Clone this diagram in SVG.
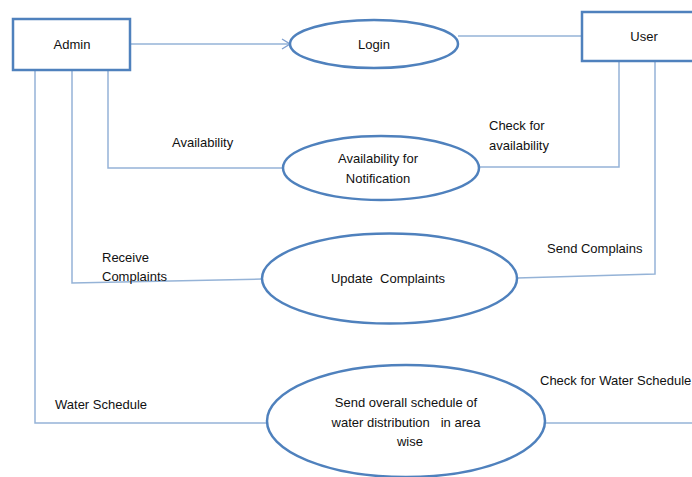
<svg xmlns="http://www.w3.org/2000/svg" width="692" height="477" viewBox="0 0 692 477">
<defs>
<style>
.box{fill:#fff;stroke:#4f81bd;stroke-width:2.5}
.proc{fill:#fff;stroke:#4f81bd;stroke-width:2.5}
.ln{fill:none;stroke:#95b3d7;stroke-width:1.5}
text{font-family:"Liberation Sans",Arial,sans-serif;font-size:13px;fill:#111}
.c{text-anchor:middle}
</style>
<marker id="arr" markerWidth="10" markerHeight="12" refX="9" refY="6" orient="auto" markerUnits="userSpaceOnUse">
<path d="M1,1 L9,6 L1,11" fill="none" stroke="#7f9fcf" stroke-width="1.3"/>
</marker>
</defs>
<rect width="692" height="477" fill="#fff"/>
<g id="connectors">
<line class="ln" x1="131" y1="44" x2="290" y2="44" marker-end="url(#arr)"/>
<line class="ln" x1="458" y1="36" x2="582" y2="36"/>
<polyline class="ln" points="108,70 108,168 283,168"/>
<polyline class="ln" points="479,167 619,167 619,61"/>
<polyline class="ln" points="72,70 72,283 262,279"/>
<polyline class="ln" points="517,278 655,274 655,61"/>
<polyline class="ln" points="35,70 35,423 267,423"/>
<line class="ln" x1="545" y1="423" x2="692" y2="423"/>
</g>
<g id="admin">
<rect class="box" x="13" y="19" width="117" height="51"/>
<text class="c" x="72" y="49">Admin</text>
</g>
<g id="user">
<rect class="box" x="582" y="12" width="120" height="49"/>
<text class="c" x="644" y="41">User</text>
</g>
<g id="login">
<ellipse class="proc" cx="374" cy="44" rx="84" ry="24"/>
<text class="c" x="374" y="49">Login</text>
</g>
<g id="availability">
<ellipse class="proc" cx="381" cy="168" rx="98" ry="32"/>
<text class="c" x="378" y="163">Availability for</text>
<text class="c" x="378" y="183">Notification</text>
</g>
<g id="update">
<ellipse class="proc" cx="389.5" cy="278.5" rx="127.5" ry="45"/>
<text class="c" x="388" y="283" xml:space="preserve">Update  Complaints</text>
</g>
<g id="schedule">
<ellipse class="proc" cx="406" cy="421" rx="139" ry="56"/>
<text class="c" x="406" y="407">Send overall schedule of</text>
<text class="c" x="406" y="427" xml:space="preserve">water distribution   in area</text>
<text class="c" x="410" y="446">wise</text>
</g>
<g id="labels">
<text x="172" y="147">Availability</text>
<text x="489" y="130">Check for</text>
<text x="489" y="150">availability</text>
<text x="102" y="262">Receive</text>
<text x="102" y="281">Complaints</text>
<text x="547" y="253">Send Complains</text>
<text x="55" y="409">Water Schedule</text>
<text x="540" y="385">Check for Water Schedule</text>
</g>
</svg>
